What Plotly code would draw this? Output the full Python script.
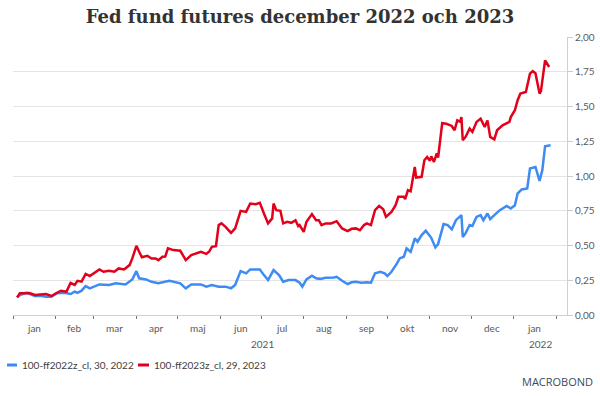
import plotly.graph_objects as go

# ---- data ----
dates_2022 = ["2021-01-04","2021-01-06","2021-01-11","2021-01-17","2021-01-22","2021-01-25","2021-01-29",
    "2021-02-02","2021-02-07","2021-02-12","2021-02-15","2021-02-17","2021-02-20","2021-02-23","2021-02-26",
    "2021-03-05","2021-03-12","2021-03-17","2021-03-24","2021-03-29","2021-04-01","2021-04-03","2021-04-08",
    "2021-04-12","2021-04-17","2021-04-25","2021-05-03","2021-05-07","2021-05-11","2021-05-18","2021-05-22",
    "2021-05-26","2021-05-31","2021-06-05","2021-06-09","2021-06-12","2021-06-16","2021-06-20","2021-06-23",
    "2021-06-30","2021-07-03","2021-07-06","2021-07-10","2021-07-14","2021-07-17","2021-07-21","2021-07-26",
    "2021-07-29","2021-07-31","2021-08-03","2021-08-07","2021-08-10","2021-08-13","2021-08-17","2021-08-23",
    "2021-08-25","2021-08-29","2021-09-02","2021-09-05","2021-09-08","2021-09-12","2021-09-16","2021-09-19",
    "2021-09-22","2021-09-26","2021-09-29","2021-10-01","2021-10-04","2021-10-08","2021-10-10","2021-10-13",
    "2021-10-15","2021-10-18","2021-10-21","2021-10-23","2021-10-26","2021-10-29","2021-11-01","2021-11-02",
    "2021-11-05","2021-11-07","2021-11-11","2021-11-14","2021-11-17","2021-11-20","2021-11-24","2021-11-25",
    "2021-11-27","2021-11-30","2021-12-02","2021-12-05","2021-12-08","2021-12-10","2021-12-13","2021-12-15",
    "2021-12-18","2021-12-22","2021-12-27","2021-12-30","2022-01-02","2022-01-04","2022-01-07","2022-01-11",
    "2022-01-13","2022-01-17","2022-01-20","2022-01-22","2022-01-24","2022-01-28"]
values_2022 = [0.127,0.144,0.160,0.137,0.137,0.132,0.132,
    0.156,0.160,0.151,0.168,0.160,0.175,0.208,0.192,
    0.220,0.216,0.228,0.220,0.256,0.316,0.264,0.256,
    0.239,0.228,0.246,0.228,0.192,0.220,0.220,0.204,
    0.216,0.204,0.204,0.192,0.216,0.316,0.300,0.328,
    0.328,0.287,0.251,0.323,0.287,0.239,0.251,0.251,
    0.232,0.204,0.256,0.282,0.264,0.260,0.268,0.270,
    0.275,0.246,0.223,0.235,0.239,0.232,0.236,0.232,
    0.300,0.311,0.300,0.280,0.311,0.371,0.407,0.419,
    0.479,0.455,0.551,0.527,0.575,0.606,0.562,0.555,
    0.486,0.510,0.654,0.647,0.616,0.682,0.718,0.562,
    0.587,0.647,0.640,0.706,0.718,0.682,0.730,0.690,
    0.718,0.754,0.785,0.766,0.790,0.874,0.903,0.910,
    1.054,1.065,0.965,1.042,1.214,1.221]

dates_2023 = ["2021-01-04","2021-01-06","2021-01-13","2021-01-17","2021-01-25","2021-01-29","2021-02-02",
    "2021-02-05","2021-02-09","2021-02-12","2021-02-15","2021-02-17","2021-02-20","2021-02-23","2021-02-26",
    "2021-03-05","2021-03-08","2021-03-12","2021-03-16","2021-03-19","2021-03-23","2021-03-27","2021-03-29",
    "2021-04-01","2021-04-03","2021-04-05","2021-04-09","2021-04-12","2021-04-15","2021-04-17","2021-04-20",
    "2021-04-22","2021-04-24","2021-04-28","2021-05-03","2021-05-07","2021-05-11","2021-05-14","2021-05-18",
    "2021-05-22","2021-05-24","2021-05-26","2021-05-29","2021-05-31","2021-06-02","2021-06-05","2021-06-09",
    "2021-06-12","2021-06-16","2021-06-20","2021-06-23","2021-06-27","2021-06-30","2021-07-03","2021-07-06",
    "2021-07-09","2021-07-10","2021-07-12","2021-07-15","2021-07-17","2021-07-20","2021-07-23","2021-07-26",
    "2021-07-28","2021-07-29","2021-08-01","2021-08-03","2021-08-07","2021-08-10","2021-08-12","2021-08-14",
    "2021-08-17","2021-08-21","2021-08-25","2021-08-29","2021-09-02","2021-09-05","2021-09-08","2021-09-11",
    "2021-09-14","2021-09-16","2021-09-19","2021-09-22","2021-09-25","2021-09-28","2021-09-30","2021-10-04",
    "2021-10-07","2021-10-09","2021-10-13","2021-10-14","2021-10-16","2021-10-18","2021-10-21","2021-10-22",
    "2021-10-26","2021-10-28","2021-10-30","2021-11-01","2021-11-02","2021-11-04","2021-11-06","2021-11-07",
    "2021-11-10","2021-11-13","2021-11-17","2021-11-19","2021-11-21","2021-11-23","2021-11-24","2021-11-25",
    "2021-11-27","2021-11-30","2021-12-02","2021-12-05","2021-12-08","2021-12-11","2021-12-13","2021-12-15",
    "2021-12-18","2021-12-20","2021-12-24","2021-12-29","2021-12-30","2022-01-02","2022-01-04","2022-01-06",
    "2022-01-10","2022-01-13","2022-01-15","2022-01-17","2022-01-20","2022-01-21","2022-01-24","2022-01-27"]
values_2023 = [0.127,0.156,0.158,0.144,0.151,0.137,0.160,
    0.175,0.168,0.230,0.216,0.246,0.240,0.295,0.280,
    0.328,0.311,0.318,0.311,0.335,0.328,0.359,0.407,
    0.498,0.455,0.415,0.426,0.407,0.407,0.395,0.419,
    0.420,0.479,0.467,0.462,0.395,0.431,0.440,0.455,
    0.440,0.455,0.490,0.495,0.647,0.659,0.634,0.591,
    0.623,0.749,0.742,0.802,0.797,0.807,0.730,0.659,
    0.695,0.802,0.754,0.750,0.659,0.670,0.663,0.682,
    0.640,0.647,0.598,0.670,0.726,0.682,0.682,0.647,
    0.659,0.659,0.675,0.623,0.603,0.620,0.623,0.610,
    0.647,0.659,0.647,0.754,0.785,0.760,0.706,0.742,
    0.790,0.850,0.850,0.833,0.898,0.890,1.065,0.989,
    0.994,1.113,1.137,1.110,1.142,1.101,1.162,1.133,
    1.380,1.376,1.360,1.329,1.400,1.390,1.424,1.257,
    1.281,1.341,1.317,1.389,1.413,1.353,1.400,1.281,
    1.264,1.329,1.365,1.389,1.424,1.473,1.545,1.593,
    1.604,1.736,1.755,1.740,1.593,1.610,1.832,1.784]

series_names = ["100-ff2022z_cl, 30, 2022", "100-ff2023z_cl, 29, 2023"]
month_labels = ["jan","feb","mar","apr","maj","jun","jul","aug","sep","okt","nov","dec","jan"]
month_mid_dates = ["2021-01-16","2021-02-15","2021-03-16","2021-04-16","2021-05-16","2021-06-16",
                   "2021-07-16","2021-08-16","2021-09-16","2021-10-16","2021-11-16","2021-12-16","2022-01-16"]
month_starts = ["2021-01-01","2021-02-01","2021-03-01","2021-04-01","2021-05-01","2021-06-01","2021-07-01",
                "2021-08-01","2021-09-01","2021-10-01","2021-11-01","2021-12-01","2022-01-01","2022-02-01"]
year_labels = ["2021", "2022"]
year_label_dates = ["2021-07-02", "2022-01-21"]
y_ticks = [0, 0.25, 0.5, 0.75, 1.0, 1.25, 1.5, 1.75, 2.0]

BLUE = "#3d8bf3"
RED = "#e3001b"
TXT = "#595959"
FONT = "Lato"
COLORS = [BLUE, RED]

# plot area in pixels (for placing legend/logo in paper coordinates)
L, R, T, B = 13, 33, 37, 81
PW, PH = 600 - L - R, 396 - T - B
def px(xp):
    return (xp - L) / PW
def py(yp):
    return (396 - B - yp) / PH

fig = go.Figure()
fig.add_trace(go.Scatter(x=dates_2022, y=values_2022, mode="lines", name=series_names[0],
                         line=dict(color=BLUE, width=2.5), showlegend=False))
fig.add_trace(go.Scatter(x=dates_2023, y=values_2023, mode="lines", name=series_names[1],
                         line=dict(color=RED, width=2.5), showlegend=False))

annotations = []
for d, lab in zip(month_mid_dates, month_labels):
    annotations.append(dict(x=d, y=py(328), xref="x", yref="paper", text=lab, showarrow=False,
                            xanchor="center", yanchor="middle", font=dict(family=FONT, size=10, color=TXT)))
for d, lab in zip(year_label_dates, year_labels):
    annotations.append(dict(x=d, y=py(344), xref="x", yref="paper", text=lab, showarrow=False,
                            xanchor="center", yanchor="middle", font=dict(family=FONT, size=10, color=TXT)))
annotations.append(dict(x=px(595), y=py(381), xref="paper", yref="paper", text="MACROBOND", showarrow=False,
                        xanchor="right", yanchor="middle",
                        font=dict(family="Open Sans", size=11, color="#3b4a5e")))

# legend (short line keys like the reference)
legend_line_px = [(7, 17), (138, 149)]
legend_text_px = [20, 152]
shapes = []
for (a, b), tx, name, col in zip(legend_line_px, legend_text_px, series_names, COLORS):
    shapes.append(dict(type="line", xref="paper", yref="paper", x0=px(a), x1=px(b), y0=py(365), y1=py(365),
                       line=dict(color=col, width=3)))
    annotations.append(dict(x=px(tx), y=py(365), xref="paper", yref="paper", text=name, showarrow=False,
                            xanchor="left", yanchor="middle",
                            font=dict(family=FONT, size=10, color="#404040")))

fig.update_layout(
    template="none",
    width=600, height=396,
    margin=dict(l=L, r=R, t=T, b=B, autoexpand=False),
    paper_bgcolor="white", plot_bgcolor="white",
    separators=",.",
    title=dict(text="<b>Fed fund futures december 2022 och 2023</b>", x=0.5, xanchor="center",
               xref="container", y=1 - 17/396, yanchor="middle",
               font=dict(family="DejaVu Serif", size=18, color="#333333")),
    showlegend=False,
    annotations=annotations,
    shapes=shapes,
    xaxis=dict(type="date", range=["2021-01-01", "2022-02-09"],
               tickvals=month_starts, ticktext=[""] * len(month_starts),
               ticks="outside", ticklen=3, tickcolor="#777777", tickwidth=1,
               showgrid=False, showline=True, linecolor="#d0d0d0", linewidth=1,
               zeroline=False, automargin=False),
    yaxis=dict(side="right", range=[0, 2.0], tickvals=y_ticks, tickformat=".2f",
               ticks="outside", ticklen=5, tickcolor="#cccccc",
               showline=True, linecolor="#d0d0d0", linewidth=1,
               showgrid=True, gridcolor="#e4e4e4", gridwidth=1, zeroline=False,
               automargin=False,
               tickfont=dict(family=FONT, size=10, color=TXT)),
)

fig.write_html("out.html", config={"displayModeBar": False},
               post_script="document.body.style.margin='0';document.body.style.padding='0';")
